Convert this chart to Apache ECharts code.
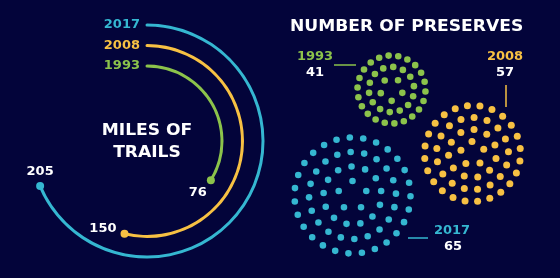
<!DOCTYPE html>
<html>
<head>
<meta charset="utf-8">
<script src="https://cdn.jsdelivr.net/npm/echarts@6/dist/echarts.min.js"></script>
<style>
html,body{margin:0;padding:0;background:#03043a;}
#chart{width:560px;height:278px;}
</style>
</head>
<body>
<div id="chart"></div>
<script>
// ---- data ----
const years = ['1993', '2008', '2017'];
const trailMiles = [76, 150, 205];
const preserveCounts = [41, 57, 65];
const trailTitle = ['MILES OF', 'TRAILS'];
const preserveTitle = 'NUMBER OF PRESERVES';

// ---- styles / layout ----
const COLORS = ['#8cc34b', '#f7c143', '#35b7d1'];
const BG = '#03043a';
const FONT = '"DejaVu Sans", sans-serif';
const CLUSTERS = [
  { cx: 391.5, cy: 89.5, R: 34, dot: 3.3, phase: 0.3,
    year: [315, 57], count: [315, 73], leader: [[334, 65], [356, 65]] },
  { cx: 472.5, cy: 153.5, R: 48, dot: 3.5, phase: 0.9,
    year: [505, 57], count: [505, 73], leader: [[506, 85], [506, 107]] },
  { cx: 352.5, cy: 195.5, R: 58, dot: 3.3, phase: -1.5708,
    year: [452, 231], count: [453, 247], leader: [[408, 238], [428, 238]] }
];
const END_LABELS = [
  { position: 'bottom', distance: 2, offset: [-13, 0] },
  { position: 'left', distance: 4, offset: [0, -5] },
  { position: 'top', distance: 4, offset: [0, 0] }
];

function txt(x, y, text, fill, size, align, extra) {
  return Object.assign({
    type: 'text', x: x, y: y,
    style: {
      text: text, x: 0, y: 0, fill: fill,
      font: 'bold ' + size + 'px ' + FONT,
      textAlign: align, textVerticalAlign: 'middle',
      align: align, verticalAlign: 'middle'
    }
  }, extra || {});
}

// split n dots over K concentric rings, outer rings holding more
function ringCounts(n) {
  const K = Math.max(1, Math.round(Math.sqrt(n / 4)));
  const w = [];
  let sw = 0;
  for (let k = 1; k <= K; k++) { w.push(k - 0.3); sw += k - 0.3; }
  const raw = w.map(function (x) { return n * x / sw; });
  const cnt = raw.map(Math.floor);
  let left = n - cnt.reduce(function (a, b) { return a + b; }, 0);
  const order = raw.map(function (x, i) { return [x - Math.floor(x), i]; })
    .sort(function (a, b) { return b[0] - a[0]; });
  for (let j = 0; j < left; j++) cnt[order[j][1]]++;
  return cnt;
}

function renderCluster(params, api) {
  const i = params.dataIndex;
  const n = api.value(0);
  const c = CLUSTERS[i];
  const children = [];
  const rings = ringCounts(n);
  const K = rings.length;
  rings.forEach(function (m, k) {
    const r = c.R * (k + 1) / K;
    for (let j = 0; j < m; j++) {
      const t = c.phase + k * 0.45 + j * 2 * Math.PI / m;
      children.push({
        type: 'circle',
        shape: { cx: c.cx + r * Math.cos(t), cy: c.cy + r * Math.sin(t), r: c.dot },
        style: { fill: COLORS[i] }
      });
    }
  });
  children.push({
    type: 'line',
    shape: { x1: c.leader[0][0], y1: c.leader[0][1], x2: c.leader[1][0], y2: c.leader[1][1] },
    style: { stroke: COLORS[i], lineWidth: 1.5 }
  });
  children.push(txt(c.year[0], c.year[1], years[i], COLORS[i], 13, 'center'));
  children.push(txt(c.count[0], c.count[1], String(n), '#ffffff', 13, 'center'));
  return { type: 'group', children: children };
}

const chart = echarts.init(document.getElementById('chart'), null, { renderer: 'canvas' });
chart.setOption({
  backgroundColor: BG,
  animation: false,
  polar: { center: [147, 141], radius: [64.75, 126.25] },
  angleAxis: {
    type: 'value', min: -49, max: 321, startValue: -49,
    startAngle: 90, clockwise: true,
    axisLine: { show: false }, axisTick: { show: false },
    axisLabel: { show: false }, splitLine: { show: false }
  },
  radiusAxis: {
    type: 'category', data: years,
    axisLine: { show: false }, axisTick: { show: false }, splitLine: { show: false },
    axisLabel: {
      interval: 0, margin: 7, fontSize: 13, fontWeight: 'bold', fontFamily: FONT,
      color: function (v, idx) { return COLORS[years.indexOf(v)]; }
    }
  },
  graphic: [
    txt(290, 27, preserveTitle, '#ffffff', 16, 'left', { scaleX: 1.07 }),
    txt(147, 131, trailTitle[0], '#ffffff', 16, 'center', { scaleX: 1.07 }),
    txt(147, 153, trailTitle[1], '#ffffff', 16, 'center', { scaleX: 1.07 })
  ],
  series: [
    {
      type: 'bar', coordinateSystem: 'polar', roundCap: true, barWidth: 3,
      data: trailMiles.map(function (v, i) { return { value: v, itemStyle: { color: COLORS[i] } }; }),
      z: 2
    },
    {
      type: 'scatter', coordinateSystem: 'polar', symbolSize: 8, z: 3,
      data: trailMiles.map(function (v, i) {
        return {
          value: [i, v],
          itemStyle: { color: COLORS[i], opacity: 1 },
          label: Object.assign({
            show: true, formatter: String(v), color: '#ffffff',
            fontSize: 13, fontWeight: 'bold', fontFamily: FONT
          }, END_LABELS[i])
        };
      })
    },
    {
      type: 'custom', coordinateSystem: 'none',
      data: preserveCounts.map(function (v) { return [v]; }),
      renderItem: renderCluster
    }
  ]
});
</script>
</body>
</html>
